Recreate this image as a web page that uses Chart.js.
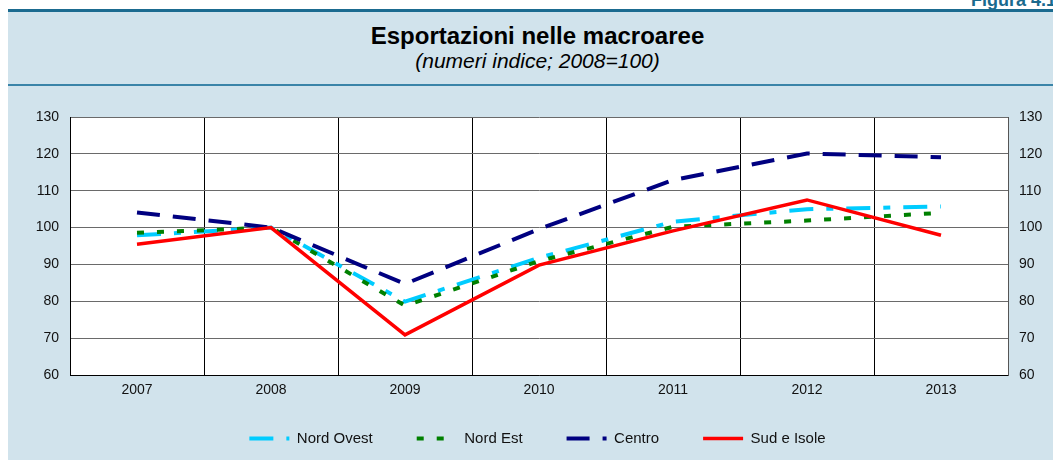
<!DOCTYPE html>
<html>
<head>
<meta charset="utf-8">
<script src="https://cdn.jsdelivr.net/npm/chart.js@4"></script>
<style>
  html, body { margin:0; padding:0; }
  body { width:1053px; height:461px; overflow:hidden; background:#ffffff; position:relative;
         font-family:'Liberation Sans', Arial, sans-serif; }
  .abs { position:absolute; }
  #fig { left:971px; top:-9px; font-weight:bold; font-size:18px; line-height:18px; color:#1a6a8e; white-space:nowrap; }
  #topline { left:8px; top:9px; width:1045px; height:3px; background:#1b6b90; }
  #panel { left:8px; top:12px; width:1045px; height:448px; background:#d1e3ec; }
  #midline { left:8px; top:84px; width:1045px; height:2px; background:#3a84a8; }
  #title { left:0; width:1075px; top:24px; text-align:center; font-weight:bold; font-size:24px; line-height:24px; color:#000; white-space:nowrap; }
  #subtitle { left:0; width:1075px; top:50px; text-align:center; font-style:italic; font-size:21px; line-height:21px; color:#000; white-space:nowrap; }
  #c { left:0; top:0; }
</style>
</head>
<body>
<div id="fig" class="abs">Figura 4.1</div>
<div id="topline" class="abs"></div>
<div id="panel" class="abs"></div>
<div id="midline" class="abs"></div>
<div id="title" class="abs">Esportazioni nelle macroaree</div>
<div id="subtitle" class="abs">(numeri indice; 2008=100)</div>
<canvas id="c" class="abs" width="1053" height="461"></canvas>
<script>
// ---- data ----
const years = ['2007', '2008', '2009', '2010', '2011', '2012', '2013'];
const nordOvest = [97.9, 100, 79.9, 91.8, 101.6, 105.0, 105.7];
const nordEst   = [98.6, 100, 78.8, 90.9, 100.2, 101.9, 104.0];
const centro    = [104.1, 100, 84.7, 99.6, 112.9, 120.1, 119.1];
const sudIsole  = [95.5, 100, 70.9, 89.8, 99.1, 107.5, 97.9];
const yMin = 60, yMax = 130, yStep = 10;

const FONT = "'Liberation Sans', Arial, sans-serif";

const whiteArea = {
  id: 'whiteArea',
  beforeDraw(chart) {
    const {ctx, chartArea: a} = chart;
    ctx.save();
    ctx.fillStyle = '#ffffff';
    ctx.fillRect(a.left, a.top, a.right - a.left, a.bottom - a.top);
    ctx.restore();
  }
};

// lift the legend row closer to the axis (legend padding also sets item spacing)
const legendLift = {
  id: 'legendLift',
  afterLayout(chart) {
    const lg = chart.legend;
    if (lg) { lg.top -= 10; lg.bottom -= 10; }
  }
};

new Chart(document.getElementById('c'), {
  type: 'line',
  data: {
    labels: years,
    datasets: [
      { label: 'Nord Ovest', data: nordOvest, borderColor: '#00ccff', backgroundColor: '#00ccff',
        borderWidth: 4, borderDash: [24, 13, 7, 13], order: 4 },
      { label: 'Nord Est', data: nordEst, borderColor: '#008000', backgroundColor: '#008000',
        borderWidth: 4, borderDash: [7, 13], order: 3 },
      { label: 'Centro', data: centro, borderColor: '#000080', backgroundColor: '#000080',
        borderWidth: 4, borderDash: [23, 13], order: 2 },
      { label: 'Sud e Isole', data: sudIsole, borderColor: '#ff0000', backgroundColor: '#ff0000',
        borderWidth: 3.5, order: 1 }
    ]
  },
  options: {
    responsive: false,
    devicePixelRatio: 1,
    animation: false,
    events: [],
    elements: {
      point: { radius: 0, hoverRadius: 0 },
      line: { tension: 0, fill: false, borderCapStyle: 'butt' }
    },
    layout: { padding: { top: 117, left: 22, right: 0, bottom: -5 } },
    scales: {
      x: {
        type: 'category',
        offset: true,
        grid: { offset: true, color: '#000000', lineWidth: 1, drawTicks: false },
        border: { color: '#000000', width: 1 },
        ticks: { color: '#111111', font: { family: FONT, size: 14 }, padding: 7, maxRotation: 0 },
        afterFit(s) { s.height = 22; }
      },
      y: {
        position: 'left',
        min: yMin, max: yMax,
        grid: { color: '#6a6a6a', lineWidth: 1, drawTicks: false },
        border: { color: '#000000', width: 1 },
        ticks: { stepSize: yStep, color: '#111111', font: { family: FONT, size: 14 }, padding: 11 },
        afterFit(s) { s.width = 48; }
      },
      y2: {
        position: 'right',
        min: yMin, max: yMax,
        grid: { drawOnChartArea: false, drawTicks: false },
        border: { color: '#555555', width: 1 },
        ticks: { stepSize: yStep, color: '#111111', font: { family: FONT, size: 14 }, padding: 11 },
        afterFit(s) { s.width = 45; }
      }
    },
    plugins: {
      title: { display: false },
      tooltip: { enabled: false },
      legend: {
        display: true,
        position: 'bottom',
        labels: {
          usePointStyle: true,
          pointStyle: 'line',
          pointStyleWidth: 40,
          padding: 44,
          color: '#111111',
          font: { family: FONT, size: 15 },
          sort: (a, b) => a.datasetIndex - b.datasetIndex,
          generateLabels(chart) {
            const items = Chart.defaults.plugins.legend.labels.generateLabels(chart);
            items.forEach(it => {
              const ds = chart.data.datasets[it.datasetIndex];
              it.lineDash = ds.borderDash || [];
              it.lineWidth = ds.borderWidth;
              it.strokeStyle = ds.borderColor;
              it.lineCap = 'butt';
            });
            return items;
          }
        }
      }
    }
  },
  plugins: [whiteArea, legendLift]
});
</script>
</body>
</html>
